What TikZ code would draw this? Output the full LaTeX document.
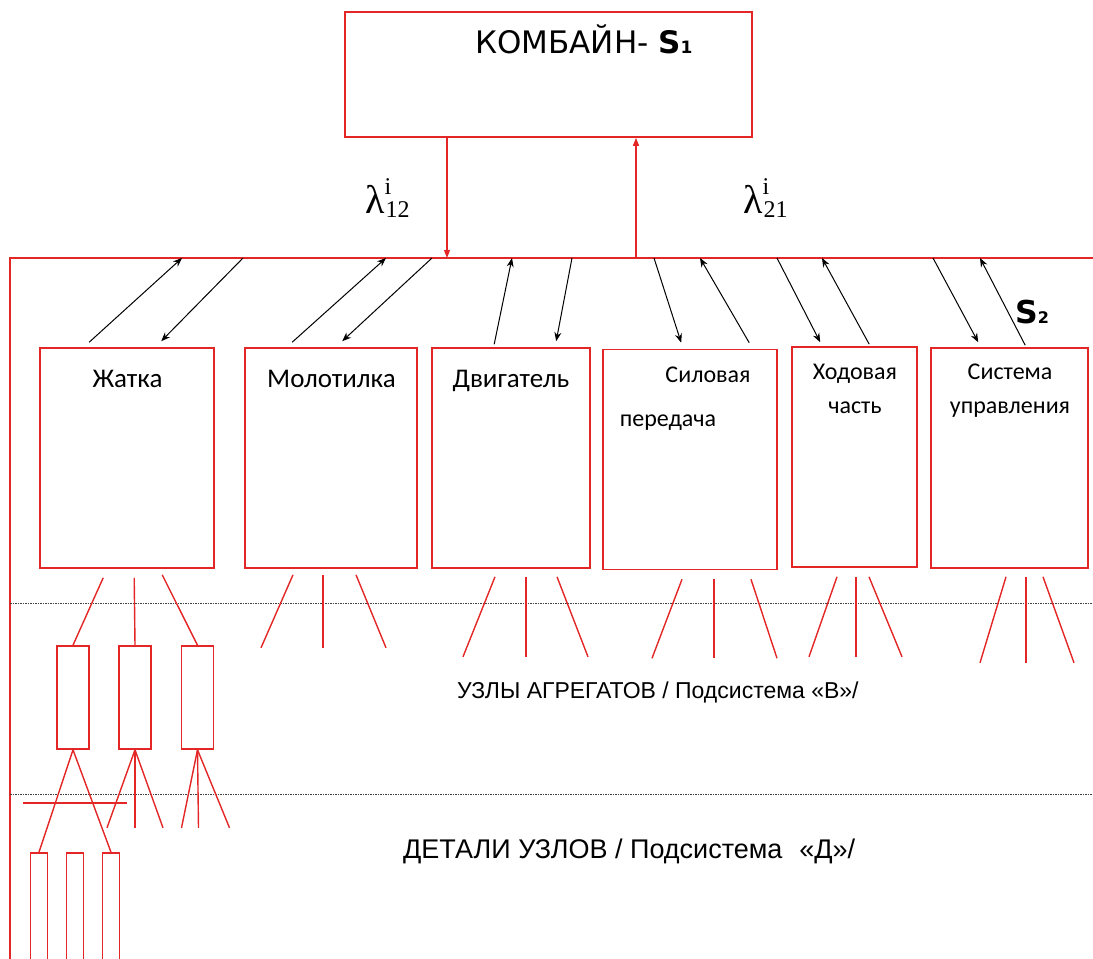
\documentclass[tikz,border=0pt]{standalone}
\usepackage{fontspec}
\setmainfont{DejaVu Sans}
\newfontfamily\boxfont{Carlito}
\newfontfamily\capfont{Liberation Sans}
\newfontfamily\lamfont{Liberation Serif}
\usetikzlibrary{arrows.meta,calc}
\definecolor{kRed}{HTML}{E32626}
\newcommand\lamlabel[2]{{\lamfont\fontsize{40}{44}\selectfont λ}%
  {\lamfont\fontsize{24}{28}\selectfont\rlap{\raisebox{19pt}{#1}}\hspace{1pt}\raisebox{-4pt}{#2}}}

\begin{document}
\begin{tikzpicture}[x=1pt,y=-1pt,
  agg/.style={draw=kRed,line width=1.6pt,inner sep=0pt},
  lbl/.style={font=\boxfont\fontsize{24}{28}\selectfont,anchor=base,inner sep=0pt},
  big/.style={font=\boxfont\fontsize{27}{30}\selectfont},
  sub/.style={font=\capfont\fontsize{23}{26}\selectfont,anchor=base west,inner sep=0pt},
  link/.style={line width=1pt,-{Stealth[length=9pt,width=7pt]}},
  redln/.style={kRed,line width=1.4pt},
  redarr/.style={kRed,line width=1.3pt,-{Triangle[length=8pt,width=6pt]}},
  dots/.style={black!75,line width=0.8pt,dash pattern=on 1.6pt off 0.9pt}]
\useasboundingbox (0,0) rectangle (1093,959);
\clip (0,0) rectangle (1093,959);
% --- system S1 ---
\node[agg,minimum width=407,minimum height=125] (kmb) at (548.5,74.5) {};
\node[anchor=base west,inner sep=0pt,font=\fontsize{31}{35}\selectfont] (kmbT) at (475,53)
  {КОМБАЙН- \textbf{S}{\bfseries\fontsize{17}{17}\selectfont 1}};
\node[anchor=base west,inner sep=0pt] (lam12) at (365,213) {\lamlabel{i}{12}};
\node[anchor=base west,inner sep=0pt] (lam21) at (743,213) {\lamlabel{i}{21}};
% --- bus of subsystem S2 ---
\coordinate (corner) at (10,258);
\coordinate (inS) at (447,258);
\coordinate (outS) at (636,258);
\draw[redln] (10,959) -- (corner) -- (1093,258);
\draw[redarr] (kmb.south -| inS) -- (inS);
\draw[redarr] (outS) -- (kmb.south -| outS);
\node[anchor=base west,inner sep=0pt,font=\bfseries\fontsize{31.5}{34}\selectfont] (s2) at (1015,323)
  {S{\fontsize{16}{17}\selectfont 2}};
% --- aggregates ---
\foreach \n/\x/\y/\w in {zh/127/458/174,mol/331/458/172,dvg/511/458/158,
    sil/690/459.5/174,hod/854.5/457/125,sys/1009.5/458/157}
  \node[agg,minimum width=\w,minimum height=220] (\n) at (\x,\y) {};
\node[lbl,big] (zhT) at (127.5,387) {Жатка};
\node[lbl,big] (molT) at (331.5,387) {Молотилка};
\node[lbl,big] (dvgT) at (511,387) {Двигатель};
\node[lbl] (silT) at (708,382) {Силовая};
\node[lbl] (silB) at (668,426) {передача};
\node[lbl] (hodT) at (855,379) {Ходовая};
\node[lbl] (hodB) at (855,413) {часть};
\node[lbl] (sysT) at (1010,379) {Система};
\node[lbl] (sysB) at (1010,413) {управления};
% --- links to the bus ---
\foreach \n/\x in {b1/182,b2/243,b3/386,b4/432,b5/512,b6/572,
    b7/654,b8/700,b9/777,b10/822,b11/933,b12/980}
  \coordinate (\n) at (\x,258);
\draw[link] ($(zh.north west)+(50,-5)$) -- (b1);
\draw[link] (b2) -- ($(zh.north west)+(122,-6)$);
\draw[link] ($(mol.north west)+(48,-5)$) -- (b3);
\draw[link] (b4) -- ($(mol.north west)+(98,-6)$);
\draw[link] ($(dvg.north west)+(63,-3)$) -- (b5);
\draw[link] (b6) -- ($(dvg.north west)+(125,-6)$);
\draw[link] (b7) -- ($(sil.north west)+(79,-6)$);
\draw[link] ($(sil.north west)+(147,-6)$) -- (b8);
\draw[link] (b9) -- ($(hod.north west)+(29,-4)$);
\draw[link] ($(hod.north west)+(78,-2)$) -- (b10);
\draw[link] (b11) -- ($(sys.north west)+(48,-5)$);
\draw[link] ($(sys.north west)+(95,-2)$) -- (b12);
% --- level borders ---
\draw[dots] (10,603) -- (1093,603);
\draw[dots] (10,794) -- (1093,794);
\node[sub] (uzT) at (457,698) {УЗЛЫ АГРЕГАТОВ / Подсистема «В»/};
\node[sub,font=\capfont\fontsize{27}{30}\selectfont] (detT) at (403,858)
  {ДЕТАЛИ УЗЛОВ / Подсистема\hspace{17pt}«Д»/};
% --- units of the header ---
\foreach \n/\x in {ua/73,ub/135,uc/197.5}
  \node[agg,minimum width=32,minimum height=103] (\n) at (\x,697.5) {};
\draw[redln] ($(zh.south west)+(64,9)$) -- (ua.north);
\draw[redln] ($(zh.south west)+(95,9)$) -- (ub.north);
\draw[redln] ($(zh.south west)+(123,6)$) -- (uc.north);
\foreach \s/\e in {-38/-70,-8/-8,25/55}
  \draw[redln] ($(mol.south)+(\s,6)$) -- ($(mol.south)+(\e,79)$);
\foreach \s/\e in {-16/-48,15/15,46/77}
  \draw[redln] ($(dvg.south)+(\s,8)$) -- ($(dvg.south)+(\e,88)$);
\foreach \s/\e in {-8/-38,24/24,61/87}
  \draw[redln] ($(sil.south)+(\s,9)$) -- ($(sil.south)+(\e,88)$);
\foreach \s/\e in {-17.5/-45.5,1.5/1.5,14.5/47.5}
  \draw[redln] ($(hod.south)+(\s,9)$) -- ($(hod.south)+(\e,89)$);
\foreach \s/\e in {-3.5/-29.5,16.5/16.5,33.5/64.5}
  \draw[redln] ($(sys.south)+(\s,8)$) -- ($(sys.south)+(\e,94)$);
% --- details ---
\foreach \n/\x in {d1/39,d2/75,d3/111}
  \node[agg,minimum width=17,minimum height=130] (\n) at (\x,918) {};
\draw[redln] (ua.south) -- (d1.north);
\draw[redln] (ua.south) -- (d3.north);
\draw[redln] (23,803) -- (127,803);
\foreach \e in {-28,0,28}
  \draw[redln] (ub.south) -- ++(\e,78);
\foreach \e in {-16,1,32}
  \draw[redln] (uc.south) -- ++(\e,78);
\end{tikzpicture}
\end{document}
